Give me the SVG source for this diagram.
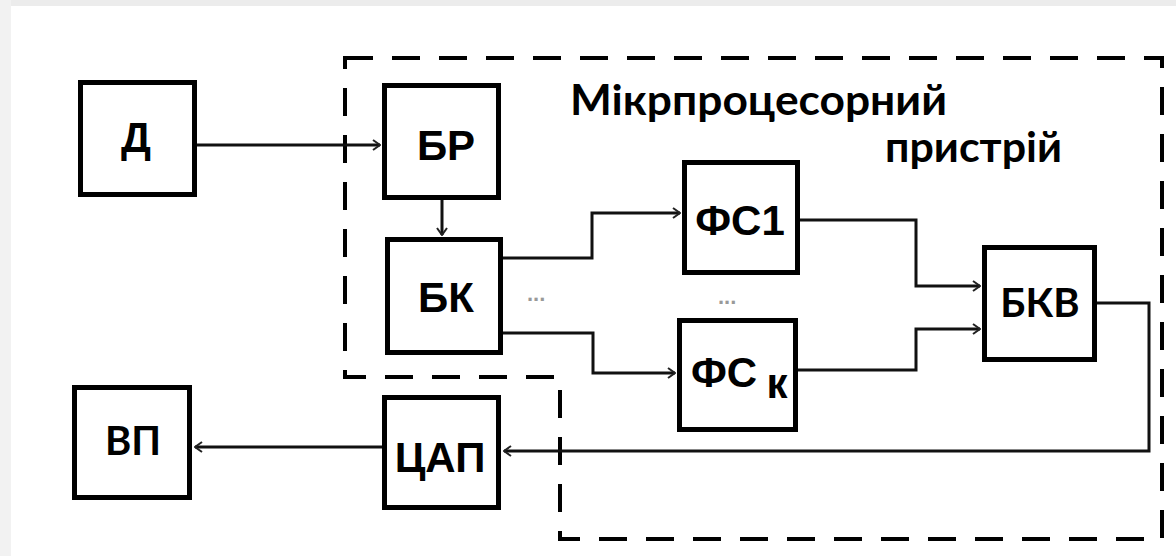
<svg xmlns="http://www.w3.org/2000/svg" width="1176" height="556" viewBox="0 0 1176 556">
<style>
.box{fill:#fff;stroke:#000;stroke-width:5}
.lbl{font-family:"Liberation Sans",Arial,sans-serif;font-weight:bold;font-size:42px;fill:#000;text-anchor:middle}
.cal{font-family:Lato,"Open Sans",sans-serif;font-weight:bold;fill:#000}
.wire{fill:none;stroke:#111;stroke-width:3}
.dash{fill:none;stroke:#000;stroke-width:4;stroke-dasharray:28 19}
.dots{font-family:"Liberation Sans",Arial,sans-serif;font-weight:bold;font-size:22px;fill:#999}
</style>
<defs>
<marker id="arr" viewBox="0 0 10 12" refX="9" refY="6" markerWidth="10" markerHeight="12" markerUnits="userSpaceOnUse" orient="auto">
<path d="M2,1 L9,6 L2,11" fill="none" stroke="#222" stroke-width="2"/>
</marker>
</defs>
<rect x="0" y="0" width="1176" height="556" fill="#fff"/>
<rect x="0" y="0" width="1176" height="6" fill="#ececec"/>
<rect x="0" y="0" width="11" height="556" fill="#f2f2f2"/>
<g id="boundary">
<path class="dash" d="M345,58 H1162 V539 H560 V377 H345 Z"/>
</g>
<g id="title">
<text class="cal" x="570" y="115" font-size="42" textLength="377" lengthAdjust="spacingAndGlyphs">Мікрпроцесорний</text>
<text class="cal" x="885" y="162" font-size="42" textLength="177" lengthAdjust="spacingAndGlyphs">пристрій</text>
</g>
<g id="connectors">
<path class="wire" d="M197,145 H380" marker-end="url(#arr)"/>
<path class="wire" d="M442,200 V235" marker-end="url(#arr)"/>
<path class="wire" d="M503,258 H592 V213 H680" marker-end="url(#arr)"/>
<path class="wire" d="M503,333 H593 V373 H675" marker-end="url(#arr)"/>
<path class="wire" d="M800,220 H916 V286 H980" marker-end="url(#arr)"/>
<path class="wire" d="M798,370 H916 V329 H980" marker-end="url(#arr)"/>
<path class="wire" d="M1097,303 H1149 V451 H504" marker-end="url(#arr)"/>
<path class="wire" d="M382,447 H195" marker-end="url(#arr)"/>
</g>
<g id="n-D"><rect class="box" x="80.5" y="82.5" width="114" height="112"/><text class="lbl" x="136" y="152">Д</text></g>
<g id="n-BR"><rect class="box" x="384.5" y="85.5" width="114" height="112"/><text class="lbl" x="446" y="160">БР</text></g>
<g id="n-BK"><rect class="box" x="387.5" y="239.5" width="113" height="113"/><text class="lbl" x="446" y="312">БК</text></g>
<g id="n-FS1"><rect class="box" x="684.5" y="162.5" width="113" height="110"/><text class="lbl" x="740" y="235">ФС1</text></g>
<g id="n-FSk"><rect class="box" x="679.5" y="320.5" width="116" height="109"/><text class="lbl" x="724" y="387">ФС</text><text class="lbl" x="777" y="398" font-size="30">к</text></g>
<g id="n-BKV"><rect class="box" x="984.5" y="247.5" width="110" height="112"/><text class="cal" x="1040" y="317" font-size="40" text-anchor="middle">БКВ</text></g>
<g id="n-DAC"><rect class="box" x="384.5" y="397.5" width="114" height="110"/><text class="lbl" x="440" y="472" font-size="40">ЦАП</text></g>
<g id="n-VP"><rect class="box" x="74.5" y="387.5" width="115" height="110"/><text class="cal" x="133" y="455" font-size="40" text-anchor="middle">ВП</text></g>
<text class="dots" x="527" y="301">...</text>
<text class="dots" x="718" y="304">...</text>
</svg>
